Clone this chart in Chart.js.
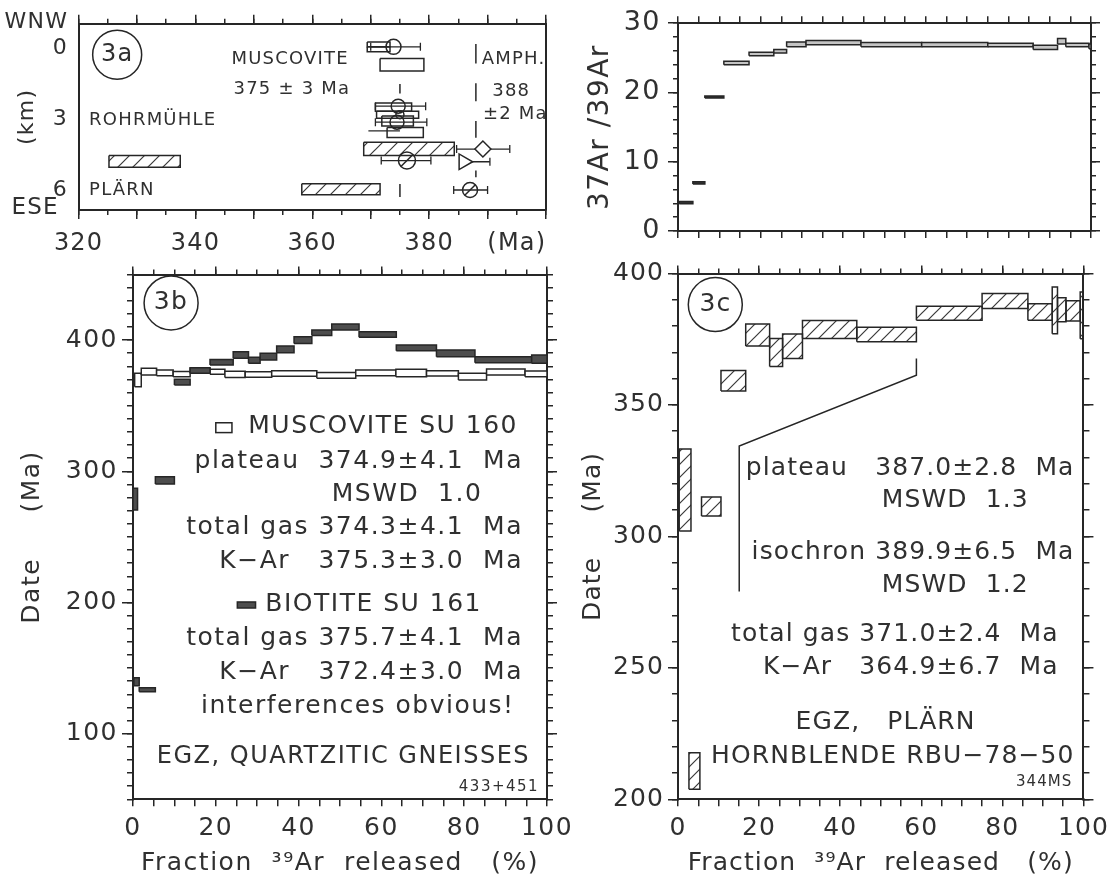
<!DOCTYPE html>
<html><head><meta charset="utf-8">
<script src="https://cdn.jsdelivr.net/npm/chart.js@4.4.1/dist/chart.umd.min.js"></script>
<style>
html,body{margin:0;padding:0;background:#fff;}
#wrap{position:relative;width:1114px;height:881px;overflow:hidden;background:#fff;}
canvas{position:absolute;left:0;top:0;}
</style></head><body><div id="wrap">
<canvas id="c3a" width="1114" height="881"></canvas>
<canvas id="cRatio" width="1114" height="881"></canvas>
<canvas id="c3b" width="1114" height="881"></canvas>
<canvas id="c3c" width="1114" height="881"></canvas>
</div>
<script>
// ===================== DATA =====================
// ---- Panel 3a : x = age (Ma), y = distance (km, WNW at top) ----
const musBoxes3a = [            // [ageMin, ageMax, kmTop, kmBottom]  open boxes (muscovite K-Ar)
  [369.4, 373.3, -0.29, -0.08],
  [369.4, 373.3, -0.08, 0.13],
  [371.6, 379.1, 0.41, 0.94],
  [370.8, 377.0, 2.30, 2.65],
  [371.0, 378.2, 2.65, 2.95],
  [371.9, 377.3, 2.86, 3.28],
  [372.8, 379.0, 3.35, 3.77]
];
const hblBoxes3a = [            // hatched boxes (amphibole)
  [368.8, 384.3, 3.97, 4.54],
  [325.2, 337.4, 4.54, 5.03],
  [358.2, 371.6, 5.73, 6.20]
];
const circles3a = [             // [age, km, errLo, errHi, radiusPx, slashed]
  [373.9, -0.08, 370.0, 378.5, 7.5, false],
  [374.7, 2.44, 370.8, 379.4, 7, false],
  [375.0, 2.80, null, null, 4, false],
  [374.5, 3.12, 370.8, 379.6, 7, false],
  [376.2, 4.75, 371.8, 380.3, 8.5, true],
  [387.0, 6.00, 384.2, 390.0, 7.5, true]
];
const diamonds3a = [[389.2, 4.26, 384.7, 393.8]];
const triangles3a = [[385.9, 4.80, 385.3, 390.4]];
const bars3a = [[369.6, 375.0, 3.49]];          // [lo, hi, km] bare error bar
const musMean3a = 375;
const musMeanSegs3a = [[1.5, 1.9], [5.75, 6.3]];
const amphMean3a = 388;
const amphMeanSegs3a = [[-0.2, 0.63], [1.47, 2.23], [3.07, 3.78], [5.17, 5.46]];

// ---- Top-right panel : 37Ar/39Ar vs fraction 39Ar released ----
const ratioSteps = [            // [pctFrom, pctTo, lo, hi]
  [0.3, 3.6, 3.95, 4.25],
  [3.6, 6.5, 6.80, 7.10],
  [6.5, 11.1, 19.20, 19.50],
  [11.1, 17.2, 24.0, 24.5],
  [17.2, 23.2, 25.3, 25.8],
  [23.2, 26.3, 25.7, 26.2],
  [26.3, 31.0, 26.6, 27.3],
  [31.0, 44.3, 26.9, 27.5],
  [44.3, 59.0, 26.6, 27.2],
  [59.0, 75.0, 26.6, 27.2],
  [75.0, 86.0, 26.6, 27.1],
  [86.0, 91.9, 26.2, 26.8],
  [91.9, 93.9, 27.0, 27.8],
  [93.9, 99.5, 26.6, 27.1],
  [99.5, 100, 26.3, 27.0]
];

// ---- Panel 3b : apparent age spectra (Ma) ----
const muscoviteSteps3b = [
  [0.4, 2.0, 364.5, 374.7],
  [2.0, 5.7, 373.4, 378.5],
  [5.7, 9.7, 372.9, 377.2],
  [9.7, 13.8, 372.1, 376.0],
  [13.8, 18.6, 374.7, 378.5],
  [18.6, 22.2, 373.9, 377.7],
  [22.2, 27.1, 371.4, 376.2],
  [27.1, 33.5, 371.6, 375.9],
  [33.5, 44.4, 372.4, 376.7],
  [44.4, 53.8, 370.9, 375.4],
  [53.8, 63.5, 372.9, 377.2],
  [63.5, 70.9, 372.1, 377.7],
  [70.9, 78.6, 372.6, 376.7],
  [78.6, 85.4, 369.6, 374.7],
  [85.4, 94.7, 373.4, 378.0],
  [94.7, 100, 372.1, 376.5]
];
const biotiteSteps3b = [
  [0.0, 1.1, 270.5, 287.0],
  [0.2, 1.5, 136.6, 142.7],
  [1.5, 5.4, 132.0, 135.1],
  [5.4, 10.0, 290.3, 295.9],
  [10.0, 13.8, 365.8, 370.1],
  [13.8, 18.6, 374.7, 379.0],
  [18.6, 24.2, 381.0, 385.3],
  [24.2, 27.9, 386.1, 391.2],
  [27.9, 30.7, 382.3, 386.9],
  [30.7, 34.7, 384.8, 389.9],
  [34.7, 38.9, 390.4, 395.5],
  [38.9, 43.2, 397.5, 402.6],
  [43.2, 48.0, 403.5, 407.7],
  [48.0, 54.6, 407.7, 412.3],
  [54.6, 63.6, 402.1, 406.4],
  [63.6, 73.3, 391.9, 396.3],
  [73.3, 82.6, 387.4, 392.5],
  [82.6, 96.3, 382.8, 387.4],
  [96.3, 100, 382.3, 388.6]
];

// ---- Panel 3c : hornblende age spectrum (Ma) ----
const hornblendeSteps3c = [
  [0.3, 3.2, 302.1, 333.2],
  [2.7, 5.4, 203.8, 217.7],
  [5.8, 10.6, 307.8, 315.0],
  [10.6, 16.7, 355.3, 363.1],
  [16.7, 22.6, 372.4, 380.8],
  [22.6, 25.8, 364.6, 375.3],
  [25.8, 30.7, 367.7, 377.0],
  [30.7, 44.1, 375.3, 382.1],
  [44.1, 58.8, 374.0, 379.6],
  [58.8, 75.0, 382.2, 387.5],
  [75.0, 86.3, 386.7, 392.4],
  [86.3, 92.3, 382.2, 388.5],
  [92.3, 93.6, 377.1, 394.9],
  [93.6, 95.7, 381.6, 390.8],
  [95.7, 99.2, 381.9, 389.6],
  [99.2, 100, 375.2, 393.0]
];
const plateauBracket3c = [[58.8, 367.7], [58.8, 361.3], [15.1, 334.4], [15.1, 279.0]];

// ---- Tick labels ----
const ageLabels3a = [320, 340, 360, 380];
const ageUnit3a = [395, '(Ma)'];
const kmLabels3a = [0, 3, 6];
const ratioLabels = [0, 10, 20, 30];
const pctLabels = [0, 20, 40, 60, 80, 100];
const ageLabels3b = [100, 200, 300, 400];
const ageLabels3c = [200, 250, 300, 350, 400];

// ===================== STYLE / HELPERS =====================
const INK = '#262626', TXT = '#303030';
const FONT = "'DejaVu Sans', 'Liberation Sans', sans-serif";

function steps(a, b, s) { const r = []; for (let v = a; v <= b + 1e-9; v += s) r.push(Math.round(v * 1000) / 1000); return r; }

function makeHatch(s, color, lw) {
  const c = document.createElement('canvas'); c.width = s; c.height = s;
  const g = c.getContext('2d');
  g.strokeStyle = color; g.lineWidth = lw; g.lineCap = 'square';
  g.beginPath();
  g.moveTo(0, s); g.lineTo(s, 0);
  g.moveTo(-2, 2); g.lineTo(2, -2);
  g.moveTo(s - 2, s + 2); g.lineTo(s + 2, s - 2);
  g.stroke();
  return g.createPattern(c, 'repeat');
}
const hatch3a = makeHatch(15, '#3a3a3a', 1.2);
const hatch3c = makeHatch(13, '#3a3a3a', 1.2);

function scaleCfg(d) {
  const labels = (d.labels || []).map(l => Array.isArray(l) ? l : [l, String(l)]);
  const vertical = d.pos === 'left' || d.pos === 'right';
  return {
    type: 'linear', axis: vertical ? 'y' : 'x', position: d.pos,
    min: d.min, max: d.max, reverse: !!d.reverse, weight: d.weight === undefined ? 1 : d.weight,
    afterBuildTicks: sc => { sc.ticks = d.ticks.map(v => ({ value: v })); },
    afterFit: sc => { if (vertical) sc.width = d.size; else sc.height = d.size; },
    grid: { display: true, drawOnChartArea: false, drawTicks: (d.len || 0) > 0, tickLength: d.len || 0,
            tickWidth: 1.5, tickColor: INK, color: INK, lineWidth: 1.5 },
    border: { display: d.border !== false, color: INK, width: 2 },
    ticks: { display: labels.length > 0, autoSkip: false, maxRotation: 0, minRotation: 0,
             padding: d.pad === undefined ? 4 : d.pad, color: TXT, font: { family: FONT, size: d.font || 25 },
             callback: v => { for (const [k, t] of labels) if (Math.abs(k - v) < 1e-6) return t; return ''; } },
    title: d.title ? { display: true, text: d.title, color: TXT, font: { family: FONT, size: d.titleFont || 25 },
                       padding: { top: d.titlePad || 0, bottom: d.titlePad || 0 } } : { display: false }
  };
}
function scales(defs) { const s = {}; defs.forEach(d => s[d.id] = scaleCfg(d)); return s; }

function boxDS(b, fill, bw) {
  return { type: 'line', xAxisID: 'x', yAxisID: 'y',
    data: [{ x: b[0], y: b[2] }, { x: b[1], y: b[2] }, { x: b[1], y: b[3] }, { x: b[0], y: b[3] }, { x: b[0], y: b[2] }],
    fill: fill ? 'shape' : false, backgroundColor: fill || 'rgba(0,0,0,0)', borderColor: INK, borderWidth: bw || 1.5,
    borderJoinStyle: 'miter', pointRadius: 0, tension: 0 };
}
function lineDS(pts, bw) {
  return { type: 'line', xAxisID: 'x', yAxisID: 'y', data: pts.map(p => ({ x: p[0], y: p[1] })),
    fill: false, borderColor: INK, borderWidth: bw || 1.5, pointRadius: 0, tension: 0 };
}
function errDS(lo, hi, y, caps) {
  return { type: 'line', xAxisID: 'x', yAxisID: 'y', data: [{ x: lo, y: y }, { x: hi, y: y }],
    fill: false, borderColor: INK, borderWidth: 1.3, tension: 0,
    pointStyle: 'line', pointRotation: 90, pointRadius: caps ? 4 : 0, pointBorderColor: INK, pointBorderWidth: 1.3 };
}
function pointDS(x, y, style, r, rot, bg) {
  return { type: 'line', xAxisID: 'x', yAxisID: 'y', showLine: false, data: [{ x: x, y: y }],
    pointStyle: style, pointRadius: r, pointRotation: rot || 0, pointBorderColor: INK,
    pointBackgroundColor: bg || 'rgba(0,0,0,0)', pointBorderWidth: 1.5 };
}
function finalize(list) { list.forEach((d, i) => d.order = list.length - i); return list; }

function annPlugin(items, spacing) {
  return {
    id: 'ann',
    beforeDraw(chart) { try { chart.ctx.letterSpacing = spacing; } catch (e) {} },
    afterDraw(chart) {
      const ctx = chart.ctx, xs = chart.scales.x, ys = chart.scales.y;
      ctx.save();
      for (const it of items) {
        if (it.kind === 'swatch') {
          const x1 = xs.getPixelForValue(it.x1), x2 = xs.getPixelForValue(it.x2);
          const y1 = ys.getPixelForValue(it.y1), y2 = ys.getPixelForValue(it.y2);
          ctx.fillStyle = it.fill; ctx.strokeStyle = INK; ctx.lineWidth = 1.5;
          ctx.fillRect(Math.min(x1, x2), Math.min(y1, y2), Math.abs(x2 - x1), Math.abs(y2 - y1));
          ctx.strokeRect(Math.min(x1, x2), Math.min(y1, y2), Math.abs(x2 - x1), Math.abs(y2 - y1));
          continue;
        }
        const px = xs.getPixelForValue(it.x), py = ys.getPixelForValue(it.y);
        if (it.kind === 'circle') {
          ctx.beginPath(); ctx.arc(px, py, it.r, 0, Math.PI * 2);
          ctx.strokeStyle = INK; ctx.lineWidth = 1.5; ctx.stroke();
        }
        ctx.font = (it.w || 'normal') + ' ' + it.size + 'px ' + FONT;
        ctx.fillStyle = TXT; ctx.textAlign = it.align || 'center'; ctx.textBaseline = 'middle';
        ctx.fillText(it.t, px, py);
      }
      ctx.restore();
    }
  };
}
function baseOptions(padding, sc) {
  return { responsive: false, maintainAspectRatio: false, animation: false, devicePixelRatio: 1, events: [],
    layout: { autoPadding: false, padding: padding },
    plugins: { legend: { display: false }, tooltip: { enabled: false } },
    scales: sc };
}

// ===================== PANEL 3a =====================
(function () {
  const ds = [];
  hblBoxes3a.forEach(b => ds.push(boxDS(b, hatch3a, 1.5)));
  musBoxes3a.forEach(b => ds.push(boxDS(b, null, 1.5)));
  musMeanSegs3a.forEach(s => ds.push(lineDS([[musMean3a, s[0]], [musMean3a, s[1]]], 1.5)));
  amphMeanSegs3a.forEach(s => ds.push(lineDS([[amphMean3a, s[0]], [amphMean3a, s[1]]], 1.5)));
  bars3a.forEach(b => ds.push(errDS(b[0], b[1], b[2], false)));
  circles3a.forEach(c => {
    if (c[2] !== null) ds.push(errDS(c[2], c[3], c[1], true));
    ds.push(pointDS(c[0], c[1], 'circle', c[4], 0));
    if (c[5]) ds.push(pointDS(c[0], c[1], 'line', c[4], -45));
  });
  diamonds3a.forEach(d => { ds.push(errDS(d[2], d[3], d[1], true)); ds.push(pointDS(d[0], d[1], 'rectRot', 8, 0, '#fff')); });
  triangles3a.forEach(d => { ds.push(errDS(d[2], d[3], d[1], true)); ds.push(pointDS(d[0], d[1], 'triangle', 9, 90, '#fff')); });

  const ann = [
    { kind: 'circle', t: '3a', x: 326.6, y: 0.25, r: 24.5, size: 24 },
    { t: 'WNW', x: 318.2, y: -1.13, align: 'right', size: 22 },
    { t: 'ESE', x: 316.6, y: 6.75, align: 'right', size: 23 },
    { t: 'MUSCOVITE', x: 356.2, y: 0.46, size: 18 },
    { t: '375 ± 3 Ma', x: 356.5, y: 1.72, size: 18 },
    { t: 'ROHRMÜHLE', x: 321.8, y: 3.06, align: 'left', size: 18 },
    { t: 'PLÄRN', x: 321.8, y: 6.0, align: 'left', size: 18 },
    { t: 'AMPH.', x: 389.0, y: 0.46, align: 'left', size: 18 },
    { t: '388', x: 390.8, y: 1.8, align: 'left', size: 18 },
    { t: '±2 Ma', x: 389.2, y: 2.77, align: 'left', size: 18 }
  ];
  const sc = scales([
    { id: 'x', pos: 'bottom', min: 320, max: 400, ticks: steps(320, 400, 5), len: 5,
      labels: ageLabels3a.concat([ageUnit3a]), font: 24, pad: 14, size: 50 },
    { id: 'x_L', pos: 'bottom', min: 320, max: 400, ticks: steps(320, 400, 10), len: 9, size: 0, weight: 0, border: false },
    { id: 'xt', pos: 'top', min: 320, max: 400, ticks: steps(320, 400, 5), len: 5, size: 9 },
    { id: 'xt_L', pos: 'top', min: 320, max: 400, ticks: steps(320, 400, 10), len: 9, size: 0, weight: 0, border: false },
    { id: 'y', pos: 'left', min: -1.06, max: 6.85, reverse: true, ticks: kmLabels3a, len: 0, labels: kmLabels3a,
      font: 22, pad: 10.6, size: 64.6, title: '(km)', titleFont: 22 },
    { id: 'yr', pos: 'right', min: -1.06, max: 6.85, reverse: true, ticks: [0], len: 0, size: 0 }
  ]);
  new Chart(document.getElementById('c3a'), {
    type: 'line', data: { datasets: finalize(ds) },
    options: baseOptions({ left: 14, right: 568, top: 12.7, bottom: 621 }, sc),
    plugins: [annPlugin(ann, '1.2px')]
  });
})();

// ===================== RATIO PANEL =====================
(function () {
  const ds = [];
  ratioSteps.forEach((b, i) => ds.push(boxDS(b, i < 3 ? '#333' : '#c4c4c4', 1.5)));
  const sc = scales([
    { id: 'x', pos: 'bottom', min: 0, max: 100, ticks: steps(0, 100, 5), len: 7, size: 7 },
    { id: 'xt', pos: 'top', min: 0, max: 100, ticks: steps(0, 100, 5), len: 7, size: 7 },
    { id: 'y', pos: 'left', min: 0, max: 30, ticks: ratioLabels, len: 10, labels: ratioLabels, font: 27, pad: 7,
      size: 93.6, title: '37Ar /39Ar', titleFont: 28 },
    { id: 'y_L', pos: 'left', min: 0, max: 30, ticks: steps(0, 30, 2), len: 5, size: 0, weight: 0, border: false },
    { id: 'yr', pos: 'right', min: 0, max: 30, ticks: ratioLabels, len: 9, size: 9 },
    { id: 'yr_L', pos: 'right', min: 0, max: 30, ticks: steps(0, 30, 2), len: 5, size: 0, weight: 0, border: false }
  ]);
  new Chart(document.getElementById('cRatio'), {
    type: 'line', data: { datasets: finalize(ds) },
    options: baseOptions({ left: 584.4, right: 14, top: 14.7, bottom: 643 }, sc),
    plugins: [annPlugin([], '1.5px')]
  });
})();

// ===================== PANEL 3b =====================
(function () {
  const ds = [];
  muscoviteSteps3b.forEach(b => ds.push(boxDS(b, '#ffffff', 1.5)));
  biotiteSteps3b.forEach(b => ds.push(boxDS(b, '#4d4d4d', 1.5)));
  const ann = [
    { kind: 'circle', t: '3b', x: 9.2, y: 428.3, r: 27, size: 25 },
    { kind: 'swatch', x1: 20.0, x2: 23.9, y1: 329.5, y2: 337.0, fill: '#fff' },
    { t: 'MUSCOVITE SU 160', x: 93.0, y: 333.8, align: 'right', size: 25 },
    { t: 'plateau  374.9±4.1  Ma', x: 94.2, y: 307.1, align: 'right', size: 25 },
    { t: 'MSWD  1.0', x: 66.2, y: 282.0, size: 25 },
    { t: 'total gas 374.3±4.1  Ma', x: 94.2, y: 256.8, align: 'right', size: 25 },
    { t: 'K−Ar   375.3±3.0  Ma', x: 94.2, y: 230.9, align: 'right', size: 25 },
    { kind: 'swatch', x1: 25.2, x2: 29.6, y1: 195.8, y2: 200.4, fill: '#4d4d4d' },
    { t: 'BIOTITE SU 161', x: 84.3, y: 198.1, align: 'right', size: 25 },
    { t: 'total gas 375.7±4.1  Ma', x: 94.2, y: 172.2, align: 'right', size: 25 },
    { t: 'K−Ar   372.4±3.0  Ma', x: 94.2, y: 147.0, align: 'right', size: 25 },
    { t: 'interferences obvious!', x: 54.3, y: 121.1, size: 25 },
    { t: 'EGZ, QUARTZITIC GNEISSES', x: 95.9, y: 82.2, align: 'right', size: 24 },
    { t: '433+451', x: 98.1, y: 59.4, align: 'right', size: 15 }
  ];
  const sc = scales([
    { id: 'x', pos: 'bottom', min: 0, max: 100, ticks: steps(0, 100, 5), len: 7, labels: pctLabels, font: 25, pad: 6.7,
      size: 80, title: 'Fraction  ³⁹Ar  released   (%)', titleFont: 25, titlePad: 1.3 },
    { id: 'xt', pos: 'top', min: 0, max: 100, ticks: steps(0, 100, 20), len: 8, size: 8 },
    { id: 'xt_L', pos: 'top', min: 0, max: 100, ticks: steps(0, 100, 5), len: 5, size: 0, weight: 0, border: false },
    { id: 'y', pos: 'left', min: 50, max: 450, ticks: ageLabels3b, len: 11, labels: ageLabels3b, font: 25, pad: 4,
      size: 116, title: 'Date \u2003 (Ma)', titleFont: 25 },
    { id: 'y_L', pos: 'left', min: 50, max: 450, ticks: steps(50, 450, 10), len: 6, size: 0, weight: 0, border: false },
    { id: 'yr', pos: 'right', min: 50, max: 450, ticks: ageLabels3b, len: 10, size: 10 },
    { id: 'yr_L', pos: 'right', min: 50, max: 450, ticks: steps(50, 450, 10), len: 6, size: 0, weight: 0, border: false }
  ]);
  new Chart(document.getElementById('c3b'), {
    type: 'line', data: { datasets: finalize(ds) },
    options: baseOptions({ left: 17, right: 557, top: 266.5, bottom: 1.7 }, sc),
    plugins: [annPlugin(ann, '1.5px')]
  });
})();

// ===================== PANEL 3c =====================
(function () {
  const ds = [];
  hornblendeSteps3c.forEach(b => ds.push(boxDS(b, hatch3c, 1.5)));
  ds.push(lineDS(plateauBracket3c, 1.5));
  const ann = [
    { kind: 'circle', t: '3c', x: 9.2, y: 388.2, r: 27, size: 25 },
    { t: 'plateau   387.0±2.8  Ma', x: 97.8, y: 326.0, align: 'right', size: 25 },
    { t: 'MSWD  1.3', x: 68.4, y: 313.8, size: 25 },
    { t: 'isochron 389.9±6.5  Ma', x: 97.8, y: 293.7, align: 'right', size: 25 },
    { t: 'MSWD  1.2', x: 68.4, y: 281.5, size: 25 },
    { t: 'total gas 371.0±2.4  Ma', x: 93.9, y: 262.5, align: 'right', size: 25 },
    { t: 'K−Ar   364.9±6.7  Ma', x: 93.9, y: 250.0, align: 'right', size: 25 },
    { t: 'EGZ,   PLÄRN', x: 51.2, y: 229.1, size: 25 },
    { t: 'HORNBLENDE RBU−78−50', x: 97.8, y: 216.1, align: 'right', size: 25 },
    { t: '344MS', x: 97.3, y: 206.6, align: 'right', size: 15 }
  ];
  const sc = scales([
    { id: 'x', pos: 'bottom', min: 0, max: 100, ticks: steps(0, 100, 5), len: 7, labels: pctLabels, font: 25, pad: 6.7,
      size: 80, title: 'Fraction  ³⁹Ar  released   (%)', titleFont: 25, titlePad: 1.3 },
    { id: 'xt', pos: 'top', min: 0, max: 100, ticks: steps(0, 100, 20), len: 8, size: 8 },
    { id: 'xt_L', pos: 'top', min: 0, max: 100, ticks: steps(0, 100, 5), len: 5, size: 0, weight: 0, border: false },
    { id: 'y', pos: 'left', min: 200, max: 400, ticks: ageLabels3c, len: 10, labels: ageLabels3c, font: 25, pad: 4,
      size: 100, title: 'Date \u2003 (Ma)', titleFont: 25 },
    { id: 'y_L', pos: 'left', min: 200, max: 400, ticks: steps(200, 400, 10), len: 6, size: 0, weight: 0, border: false },
    { id: 'yr', pos: 'right', min: 200, max: 400, ticks: ageLabels3c, len: 10, size: 10 },
    { id: 'yr_L', pos: 'right', min: 200, max: 400, ticks: steps(200, 400, 10), len: 6, size: 0, weight: 0, border: false }
  ]);
  new Chart(document.getElementById('c3c'), {
    type: 'line', data: { datasets: finalize(ds) },
    options: baseOptions({ left: 578, right: 14, top: 265.5, bottom: 1.7 }, sc),
    plugins: [annPlugin(ann, '1.1px')]
  });
})();
</script>
</body></html>
